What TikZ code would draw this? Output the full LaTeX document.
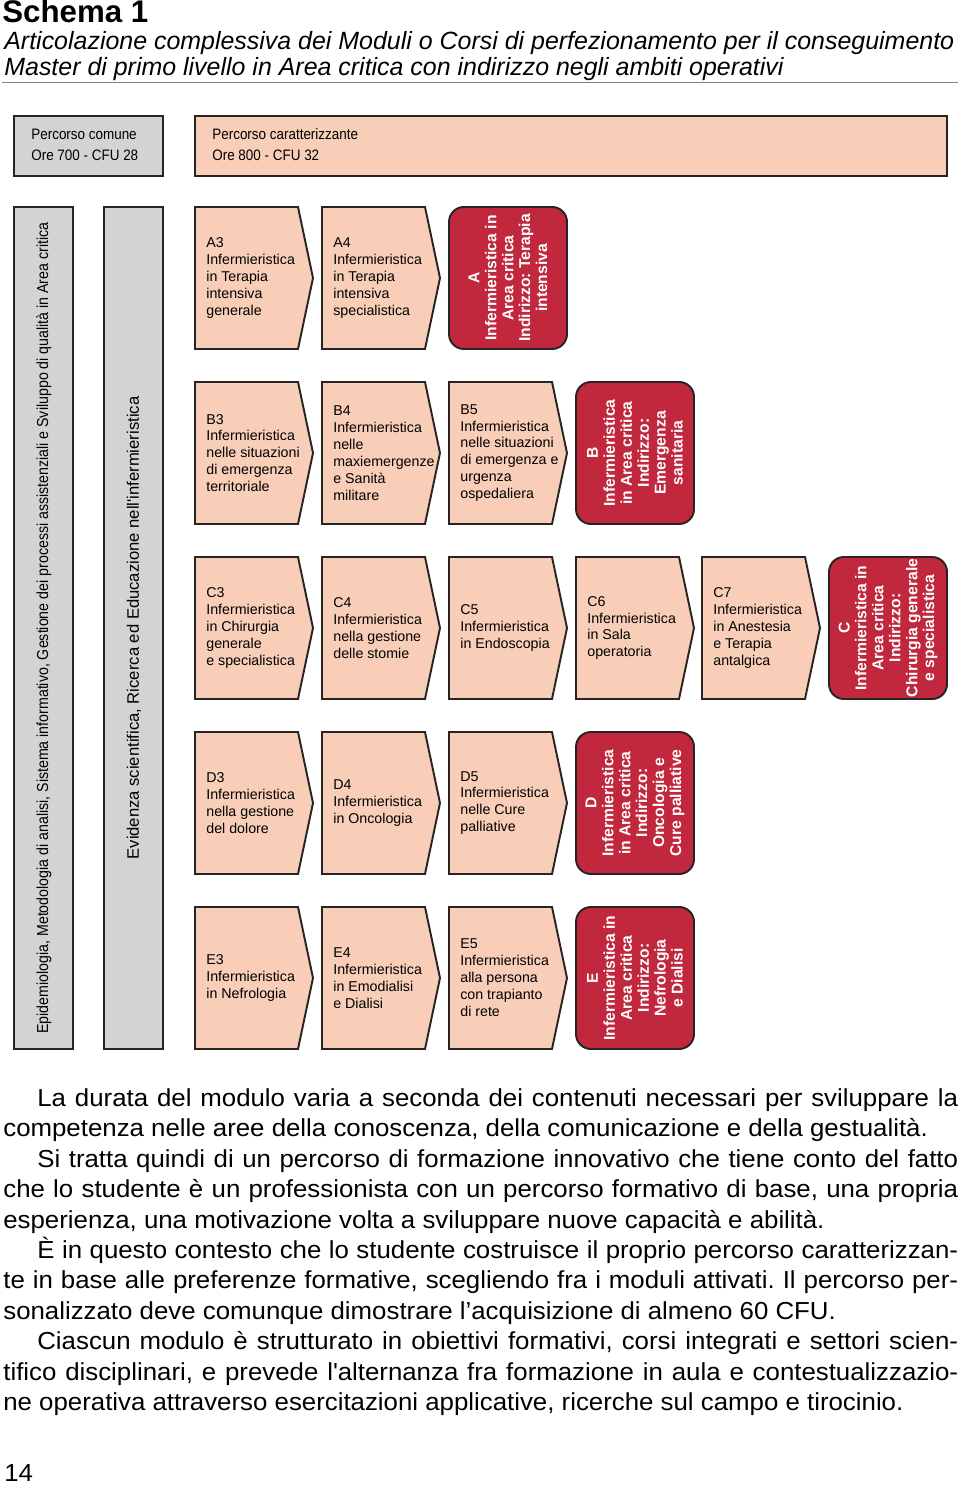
\documentclass[tikz,border=0pt]{standalone}
\usepackage{fontspec}
\setmainfont{Liberation Sans}
\newfontfamily\strettofont[FakeStretch=0.89]{Liberation Sans}
\newfontfamily\corpofont[FakeStretch=1.05]{Liberation Sans}
\definecolor{salmone}{RGB}{249,206,184}
\definecolor{grigio}{RGB}{211,211,213}
\definecolor{rosso}{RGB}{193,40,62}
\definecolor{bordo}{RGB}{40,36,36}
\frenchspacing
\begin{document}
\begin{tikzpicture}[x=0.02cm,y=-0.02cm,
    modulo/.style={draw=bordo,fill=salmone,line width=1.1pt},
    comune/.style={draw=bordo,fill=grigio,line width=1.1pt},
    indirizzo/.style={draw=bordo,fill=rosso,line width=1.1pt,rounded corners=8.5pt},
    testo/.style={anchor=west,align=left,inner sep=0pt,font=\fontsize{8.1}{9.64}\selectfont},
    bianco/.style={rotate=90,align=center,inner sep=0pt,text=white,font=\bfseries\fontsize{8.9}{9.64}\selectfont},
    piccolo/.style={anchor=base west,inner sep=0pt,font=\strettofont\fontsize{8.6}{10}\selectfont},
    riga/.style={anchor=base west,inner sep=0pt,font=\corpofont\fontsize{14}{17}\selectfont}]
\fill[white] (0,0) rectangle (960,1486);
\useasboundingbox (0,0) rectangle (960,1486);
% titolo
\node[anchor=base west,inner sep=0pt,font=\bfseries\fontsize{17.8}{20}\selectfont] (titolo) at (2,22.5) {Schema 1};
\node[anchor=base west,inner sep=0pt,font=\itshape\fontsize{14.2}{16}\selectfont] (sotto1) at (4,50) {Articolazione complessiva dei Moduli o Corsi di perfezionamento per il conseguimento};
\node[anchor=base west,inner sep=0pt,font=\itshape\fontsize{14.2}{16}\selectfont] (sotto2) at (4,76) {Master di primo livello in Area critica con indirizzo negli ambiti operativi};
\draw[gray,line width=0.5pt] (2,82) -- (958,82);
% percorsi
\draw[comune] (14,116) rectangle (163,176);
\node[piccolo] (comune1) at (31,140) {Percorso comune};
\node[piccolo] (comune2) at (31,161) {Ore 700 - CFU 28};
\draw[modulo] (195,116) rectangle (947,176);
\node[piccolo] (caratt1) at (212,140) {Percorso caratterizzante};
\node[piccolo] (caratt2) at (212,161) {Ore 800 - CFU 32};
% colonne comuni
\draw[comune] (14,207) rectangle (73,1049);
\node[rotate=90,inner sep=0pt,font=\strettofont\fontsize{9.07}{10}\selectfont] (epidemiologia) at (44,628) {Epidemiologia, Metodologia di analisi, Sistema informativo, Gestione dei processi assistenziali e Sviluppo di qualità in Area critica};
\draw[comune] (104,207) rectangle (163,1049);
\node[rotate=90,inner sep=0pt,font=\fontsize{9.47}{10}\selectfont] (evidenza) at (134,628) {Evidenza scientifica, Ricerca ed Educazione nell\textquotesingle infermieristica};
% riga A
\draw[modulo] (195,207) -- ++(103,0) -- ++(15,71) -- ++(-15,71) -- ++(-103,0) -- cycle;
\node[testo] (a3) at (206,278) {A3\\Infermieristica\\in Terapia\\intensiva\\generale};
\draw[modulo] (322,207) -- ++(103,0) -- ++(15,71) -- ++(-15,71) -- ++(-103,0) -- cycle;
\node[testo] (a4) at (333,278) {A4\\Infermieristica\\in Terapia\\intensiva\\specialistica};
\draw[indirizzo] (449,207) rectangle ++(118,142);
\node[bianco] (a) at (508,278) {A\\Infermieristica in\\Area critica\\Indirizzo: Terapia\\intensiva};
% riga B
\draw[modulo] (195,382) -- ++(103,0) -- ++(15,71) -- ++(-15,71) -- ++(-103,0) -- cycle;
\node[testo] (b3) at (206,453) {B3\\Infermieristica\\nelle situazioni\\di emergenza\\territoriale};
\draw[modulo] (322,382) -- ++(103,0) -- ++(15,71) -- ++(-15,71) -- ++(-103,0) -- cycle;
\node[testo] (b4) at (333,453) {B4\\Infermieristica\\nelle\\maxiemergenze\\e Sanità\\militare};
\draw[modulo] (449,382) -- ++(103,0) -- ++(15,71) -- ++(-15,71) -- ++(-103,0) -- cycle;
\node[testo] (b5) at (460,453) {B5\\Infermieristica\\nelle situazioni\\di emergenza e\\urgenza\\ospedaliera};
\draw[indirizzo] (576,382) rectangle ++(118,142);
\node[bianco] (b) at (635,453) {B\\Infermieristica\\in Area critica\\Indirizzo:\\Emergenza\\sanitaria};
% riga C
\draw[modulo] (195,557) -- ++(103,0) -- ++(15,71) -- ++(-15,71) -- ++(-103,0) -- cycle;
\node[testo] (c3) at (206,628) {C3\\Infermieristica\\in Chirurgia\\generale\\e specialistica};
\draw[modulo] (322,557) -- ++(103,0) -- ++(15,71) -- ++(-15,71) -- ++(-103,0) -- cycle;
\node[testo] (c4) at (333,628) {C4\\Infermieristica\\nella gestione\\delle stomie};
\draw[modulo] (449,557) -- ++(103,0) -- ++(15,71) -- ++(-15,71) -- ++(-103,0) -- cycle;
\node[testo] (c5) at (460,628) {C5\\Infermieristica\\in Endoscopia};
\draw[modulo] (576,557) -- ++(103,0) -- ++(15,71) -- ++(-15,71) -- ++(-103,0) -- cycle;
\node[testo] (c6) at (587,628) {C6\\Infermieristica\\in Sala\\operatoria};
\draw[modulo] (702,557) -- ++(103,0) -- ++(15,71) -- ++(-15,71) -- ++(-103,0) -- cycle;
\node[testo] (c7) at (713,628) {C7\\Infermieristica\\in Anestesia\\e Terapia\\antalgica};
\draw[indirizzo] (829,557) rectangle ++(118,142);
\node[bianco] (c) at (888,628) {C\\Infermieristica in\\Area critica\\Indirizzo:\\Chirurgia generale\\e specialistica};
% riga D
\draw[modulo] (195,732) -- ++(103,0) -- ++(15,71) -- ++(-15,71) -- ++(-103,0) -- cycle;
\node[testo] (d3) at (206,803) {D3\\Infermieristica\\nella gestione\\del dolore};
\draw[modulo] (322,732) -- ++(103,0) -- ++(15,71) -- ++(-15,71) -- ++(-103,0) -- cycle;
\node[testo] (d4) at (333,803) {D4\\Infermieristica\\in Oncologia};
\draw[modulo] (449,732) -- ++(103,0) -- ++(15,71) -- ++(-15,71) -- ++(-103,0) -- cycle;
\node[testo] (d5) at (460,803) {D5\\Infermieristica\\nelle Cure\\palliative};
\draw[indirizzo] (576,732) rectangle ++(118,142);
\node[bianco] (d) at (635,803) {D\\Infermieristica\\in Area critica\\Indirizzo:\\Oncologia e\\Cure palliative};
% riga E
\draw[modulo] (195,907) -- ++(103,0) -- ++(15,71) -- ++(-15,71) -- ++(-103,0) -- cycle;
\node[testo] (e3) at (206,978) {E3\\Infermieristica\\in Nefrologia};
\draw[modulo] (322,907) -- ++(103,0) -- ++(15,71) -- ++(-15,71) -- ++(-103,0) -- cycle;
\node[testo] (e4) at (333,978) {E4\\Infermieristica\\in Emodialisi\\e Dialisi};
\draw[modulo] (449,907) -- ++(103,0) -- ++(15,71) -- ++(-15,71) -- ++(-103,0) -- cycle;
\node[testo] (e5) at (460,978) {E5\\Infermieristica\\alla persona\\con trapianto\\di rete};
\draw[indirizzo] (576,907) rectangle ++(118,142);
\node[bianco] (e) at (635,978) {E\\Infermieristica in\\Area critica\\Indirizzo:\\Nefrologia\\e Dialisi};
% testo
\node[riga] (l1) at (37,1106.5) {\makebox[18.42cm][s]{La durata del modulo varia a seconda dei contenuti necessari per sviluppare la}};
\node[riga] (l2) at (3,1136.9) {competenza nelle aree della conoscenza, della comunicazione e della gestualità.};
\node[riga] (l3) at (37,1167.3) {\makebox[18.42cm][s]{Si tratta quindi di un percorso di formazione innovativo che tiene conto del fatto}};
\node[riga] (l4) at (3,1197.7) {\makebox[19.1cm][s]{che lo studente è un professionista con un percorso formativo di base, una propria}};
\node[riga] (l5) at (3,1228.1) {esperienza, una motivazione volta a sviluppare nuove capacità e abilità.};
\node[riga] (l6) at (37,1258.5) {\makebox[18.42cm][s]{È in questo contesto che lo studente costruisce il proprio percorso caratterizzan-}};
\node[riga] (l7) at (3,1288.9) {\makebox[19.1cm][s]{te in base alle preferenze formative, scegliendo fra i moduli attivati. Il percorso per-}};
\node[riga] (l8) at (3,1319.3) {sonalizzato deve comunque dimostrare l’acquisizione di almeno 60 CFU.};
\node[riga] (l9) at (37,1349.7) {\makebox[18.42cm][s]{Ciascun modulo è strutturato in obiettivi formativi, corsi integrati e settori scien-}};
\node[riga] (l10) at (3,1380.1) {\makebox[19.1cm][s]{tifico disciplinari, e prevede l\textquotesingle alternanza fra formazione in aula e contestualizzazio-}};
\node[riga] (l11) at (3,1410.5) {ne operativa attraverso esercitazioni applicative, ricerche sul campo e tirocinio.};
\node[riga] (pagina) at (4,1481) {14};
\end{tikzpicture}
\end{document}
